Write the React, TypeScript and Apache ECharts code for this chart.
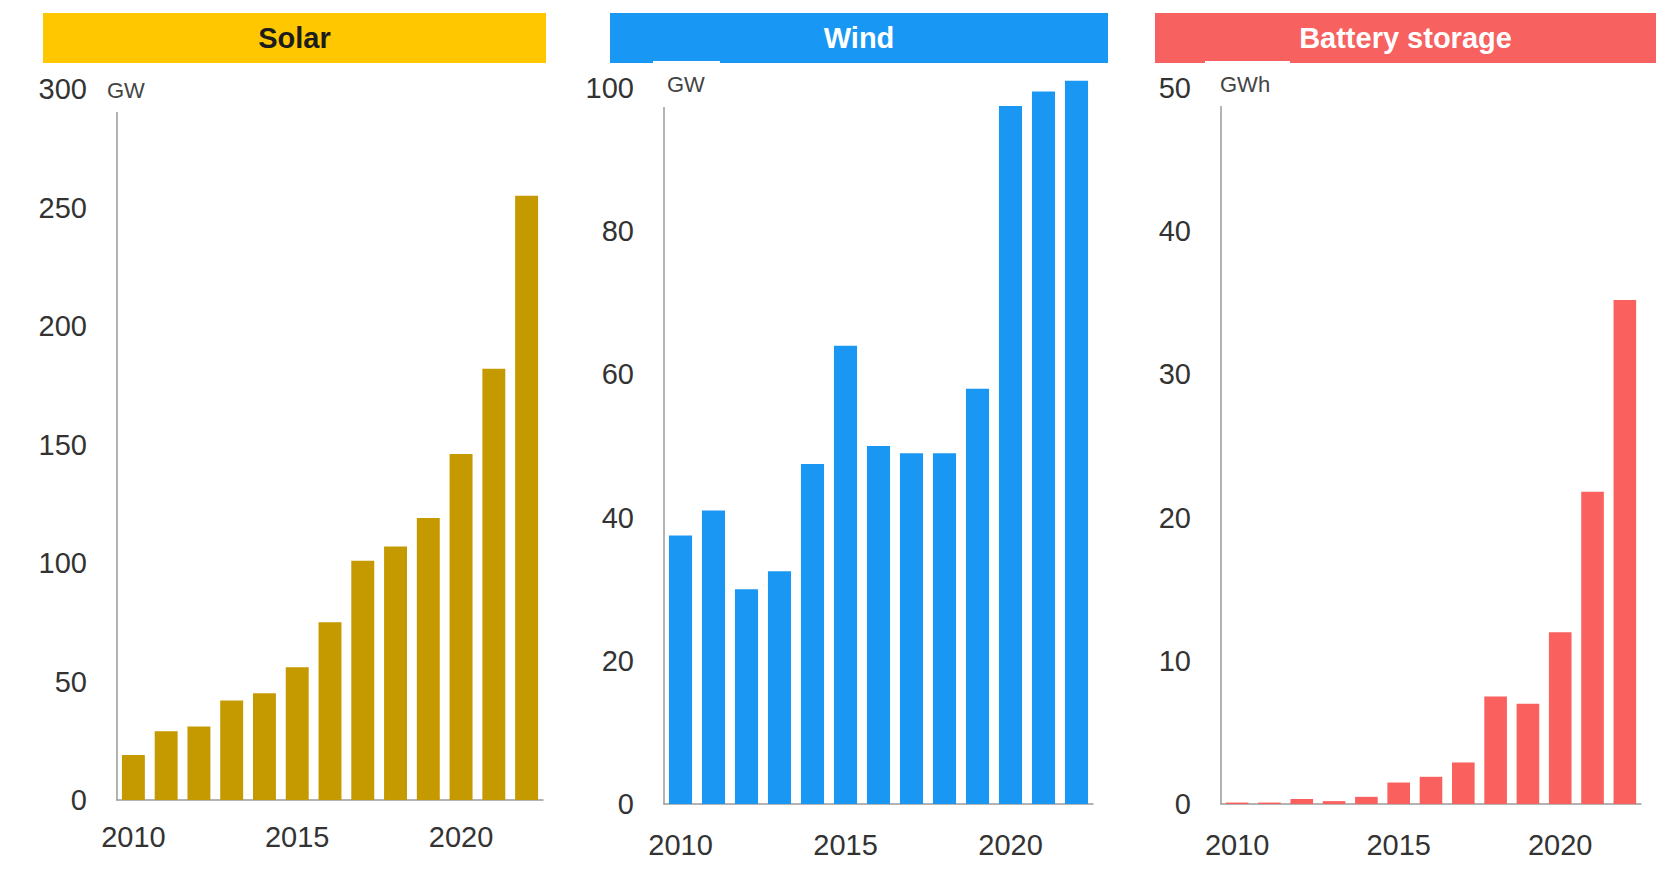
import React, { useEffect, useRef } from 'react';
import * as echarts from 'echarts';

// Annual capacity additions, 2010–2022
const years = ['2010', '2011', '2012', '2013', '2014', '2015', '2016', '2017', '2018', '2019', '2020', '2021', '2022'];
const solarGW = [19, 29, 31, 42, 45, 56, 75, 101, 107, 119, 146, 182, 255];
const windGW = [37.5, 41, 30, 32.5, 47.5, 64, 50, 49, 49, 58, 97.5, 99.5, 101];
const batteryGWh = [0.1, 0.1, 0.35, 0.2, 0.5, 1.5, 1.9, 2.9, 7.5, 7, 12, 21.8, 35.2];

const panelTitles = ['Solar', 'Wind', 'Battery storage'];
const panelUnits = ['GW', 'GW', 'GWh'];
const axisMax = [300, 100, 50];
const axisStep = [50, 20, 10];

const FONT = '"Liberation Sans", Arial, Helvetica, sans-serif';

// Panel geometry (pixels)
const panels = [
  {
    grid: { left: 117, top: 89, width: 426, height: 711 },
    header: { x: 43, w: 503 },
    headerColor: '#FFC700',
    titleColor: '#1c1c1c',
    barColor: '#C49A00',
    unitAt: { x: 107, y: 90 },
    mask: { x: 100, y: 64, w: 60, h: 48 },
    yearMargin: 22,
    values: solarGW,
  },
  {
    grid: { left: 664, top: 88, width: 429, height: 716 },
    header: { x: 610, w: 498 },
    headerColor: '#1897F4',
    titleColor: '#ffffff',
    barColor: '#1A97F3',
    unitAt: { x: 667, y: 84 },
    mask: { x: 653, y: 61, w: 67, h: 46 },
    yearMargin: 26,
    values: windGW,
  },
  {
    grid: { left: 1221, top: 88, width: 420, height: 716 },
    header: { x: 1155, w: 501 },
    headerColor: '#F7615F',
    titleColor: '#ffffff',
    barColor: '#F9605E',
    unitAt: { x: 1220, y: 84 },
    mask: { x: 1205, y: 61, w: 85, h: 45 },
    yearMargin: 26,
    values: batteryGWh,
  },
];

const AXIS_GREY = '#9a9a9a';
const LABEL_GREY = '#333333';

function buildOption() {
  const grid = panels.map((p) => ({ ...p.grid, containLabel: false }));
  const xAxis = panels.map((p, i) => ({
    type: 'category',
    gridIndex: i,
    data: years,
    axisTick: { show: false },
    axisLine: { show: true, lineStyle: { color: AXIS_GREY, width: 1.5 } },
    axisLabel: {
      interval: 4,
      margin: p.yearMargin,
      color: LABEL_GREY,
      fontSize: 29,
      fontFamily: FONT,
    },
  }));
  const yAxis = panels.map((_, i) => ({
    type: 'value',
    gridIndex: i,
    min: 0,
    max: axisMax[i],
    interval: axisStep[i],
    splitLine: { show: false },
    axisTick: { show: false },
    axisLine: { show: true, lineStyle: { color: AXIS_GREY, width: 1.5 } },
    axisLabel: {
      margin: 30,
      color: LABEL_GREY,
      fontSize: 29,
      fontFamily: FONT,
    },
  }));
  const series = panels.map((p, i) => ({
    type: 'bar',
    name: panelTitles[i],
    xAxisIndex: i,
    yAxisIndex: i,
    data: p.values,
    barCategoryGap: '30%',
    clip: false,
    itemStyle: { color: p.barColor },
  }));

  const graphic: any[] = [];
  panels.forEach((p, i) => {
    // coloured title band
    graphic.push({
      type: 'rect',
      z: 100,
      shape: { x: p.header.x, y: 13, width: p.header.w, height: 50 },
      style: { fill: p.headerColor },
    });
    graphic.push({
      type: 'text',
      z: 101,
      x: p.header.x + p.header.w / 2,
      y: 38,
      style: {
        text: panelTitles[i],
        fill: p.titleColor,
        font: `bold 29px ${FONT}`,
        align: 'center',
        verticalAlign: 'middle',
      },
    });
    // white box behind the unit label
    graphic.push({
      type: 'rect',
      z: 102,
      shape: { x: p.mask.x, y: p.mask.y, width: p.mask.w, height: p.mask.h },
      style: { fill: '#ffffff' },
    });
    graphic.push({
      type: 'text',
      z: 103,
      x: p.unitAt.x,
      y: p.unitAt.y,
      style: {
        text: panelUnits[i],
        fill: '#444444',
        font: `22px ${FONT}`,
        align: 'left',
        verticalAlign: 'middle',
      },
    });
  });

  return {
    animation: false,
    backgroundColor: '#ffffff',
    grid,
    xAxis,
    yAxis,
    series,
    graphic,
  };
}

export default function App() {
  const ref = useRef<HTMLDivElement>(null);
  useEffect(() => {
    if (!ref.current) return;
    const chart = echarts.init(ref.current, null, { renderer: 'svg' });
    chart.setOption(buildOption() as any);
    return () => chart.dispose();
  }, []);
  return (
    <div
      ref={ref}
      style={{ position: 'fixed', left: 0, top: 0, width: 1677, height: 879, background: '#ffffff' }}
    />
  );
}
